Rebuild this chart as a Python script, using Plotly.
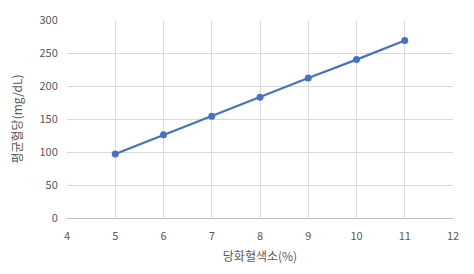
import plotly.graph_objects as go

hba1c = [5, 6, 7, 8, 9, 10, 11]
glucose = [97, 126, 154, 183, 212, 240, 269]
x_ticks = [4, 5, 6, 7, 8, 9, 10, 11, 12]
y_ticks = [0, 50, 100, 150, 200, 250, 300]

fig = go.Figure()
fig.add_trace(go.Scatter(
    x=hba1c, y=glucose, mode="lines+markers",
    line=dict(color="#4472C4", width=2.2),
    marker=dict(color="#4472C4", size=7),
    showlegend=False,
))

font = dict(family="Noto Sans CJK KR, Noto Sans, sans-serif", size=11, color="#595959")
fig.update_layout(
    width=474, height=274,
    margin=dict(l=67, r=21, t=11, b=56),
    paper_bgcolor="white", plot_bgcolor="white",
    font=font,
    xaxis=dict(
        range=[4, 12], tickvals=x_ticks, ticktext=[str(v) for v in x_ticks],
        showgrid=True, gridcolor="#D9D9D9", gridwidth=1,
        showline=True, linecolor="#BFBFBF", linewidth=1,
        zeroline=False, ticks="outside", ticklen=8, tickcolor="rgba(0,0,0,0)",
        title=dict(text="당화혈색소(%)", font=dict(size=12, color="#595959"), standoff=10),
    ),
    yaxis=dict(
        range=[0, 300], tickvals=y_ticks, ticktext=[str(v) for v in y_ticks],
        showgrid=True, gridcolor="#D9D9D9", gridwidth=1,
        showline=False, zeroline=False,
        ticks="outside", ticklen=6, tickcolor="rgba(0,0,0,0)",
        title=dict(text="평균혈당(mg/dL)", font=dict(size=12, color="#595959"), standoff=14),
    ),
)
fig.write_html("out.html")
